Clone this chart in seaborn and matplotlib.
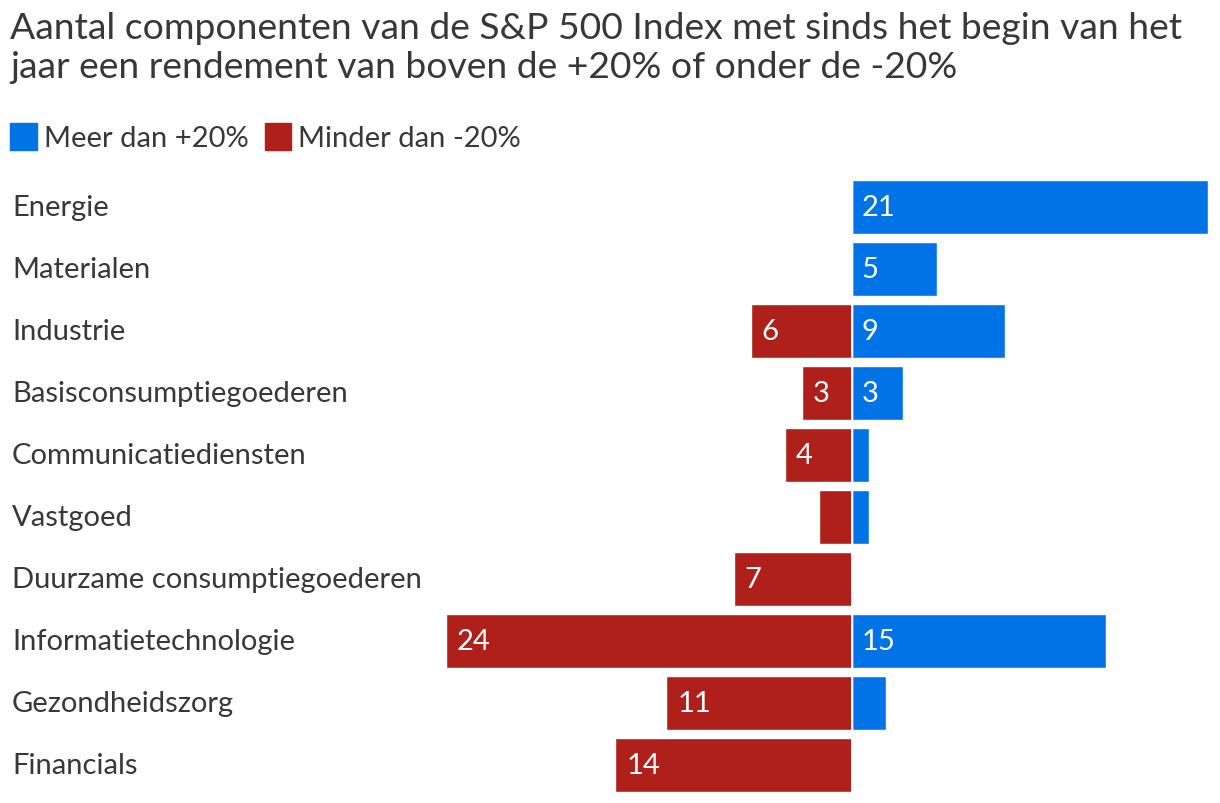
import numpy as np
import pandas as pd
import matplotlib
matplotlib.use('Agg')
import matplotlib.pyplot as plt
from matplotlib.patches import Patch
import seaborn as sns

# ── data ──
sectors = ['Energie', 'Materialen', 'Industrie', 'Basisconsumptiegoederen',
           'Communicatiediensten', 'Vastgoed', 'Duurzame consumptiegoederen',
           'Informatietechnologie', 'Gezondheidszorg', 'Financials']
above_20 = [21, 5, 9, 3, 1, 1, 0, 15, 2, 0]
below_20 = [0, 0, 6, 3, 4, 2, 7, 24, 11, 14]

title = ('Aantal componenten van de S&P 500 Index met sinds het begin van het\n'
         'jaar een rendement van boven de +20% of onder de -20%')
legend_labels = ['Meer dan +20%', 'Minder dan -20%']

BLUE = '#0073E6'
RED = '#B0201B'
TXT = '#383838'

df = pd.DataFrame({'sector': sectors,
                   'up': above_20,
                   'down': [-v for v in below_20]})

sns.set_style('white')
plt.rcParams['font.family'] = ['Lato', 'DejaVu Sans']

W, H = 1220, 804
fig = plt.figure(figsize=(W / 100, H / 100), dpi=100)
# axes: x from -24 (px 446) to 21 (px 1208); rows centred 209..766 px
ax = fig.add_axes([446 / W, (H - 797) / H, 762 / W, 620 / H])

sns.barplot(data=df, y='sector', x='up', color=BLUE, orient='h',
            width=0.88, saturation=1, ax=ax)
sns.barplot(data=df, y='sector', x='down', color=RED, orient='h',
            width=0.88, saturation=1, ax=ax)

ax.set_xlim(-24, 21)
ax.set_ylim(len(sectors) - 0.5, -0.5)
ax.axvline(0, color='white', linewidth=1.3, zorder=5)
ax.set_xlabel('')
ax.set_ylabel('')
ax.set_xticks([])
ax.set_yticks([])
sns.despine(ax=ax, left=True, bottom=True)

# category labels at the left edge of the figure
trans = matplotlib.transforms.blended_transform_factory(fig.transFigure, ax.transData)
for i, s in enumerate(sectors):
    ax.text(12 / W, i, s, transform=trans, ha='left', va='center',
            fontsize=21, color=TXT)

# value labels inside the bars
for i, (u, d) in enumerate(zip(above_20, below_20)):
    if u >= 3:
        ax.annotate(str(u), (0, i), xytext=(9, 0), textcoords='offset pixels',
                    ha='left', va='center', fontsize=21, color='white')
    if d >= 3:
        ax.annotate(str(d), (-d, i), xytext=(11, 0), textcoords='offset pixels',
                    ha='left', va='center', fontsize=21, color='white')

fig.text(10 / W, 1 - 12 / H, title, ha='left', va='top', fontsize=26.8,
         color=TXT, linespacing=1.22)

handles = [Patch(color=BLUE), Patch(color=RED)]
fig.legend(handles, legend_labels, loc='upper left',
           bbox_to_anchor=(-10 / W, 1 - 104 / H), ncol=2, frameon=False,
           fontsize=21, handlelength=0.9, handleheight=1.0, borderaxespad=0.3,
           handletextpad=0.25, columnspacing=0.55, labelcolor=TXT)

plt.savefig('out.png', dpi=100)
